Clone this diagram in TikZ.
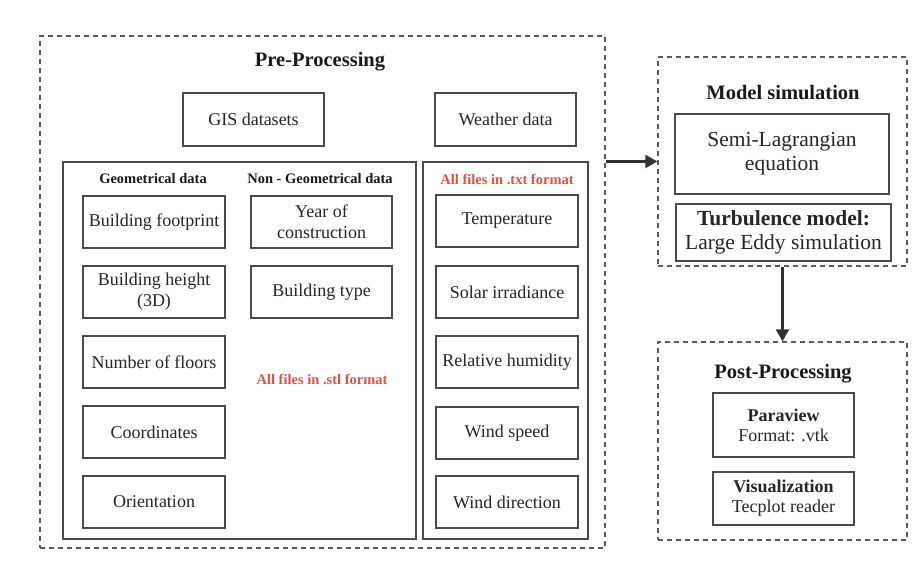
\documentclass[tikz,border=0pt]{standalone}
\usepackage{fontspec}
\setmainfont{Liberation Serif}
\usetikzlibrary{arrows.meta}
\definecolor{boxline}{HTML}{4A4A4A}
\definecolor{dashline}{HTML}{5A5A5A}
\definecolor{redtxt}{HTML}{DE523E}
\definecolor{arrowc}{HTML}{333333}
\tikzset{
  box/.style={draw=boxline, line width=1.3pt, rectangle, inner sep=0pt, align=center,
    font=\fontsize{18}{21}\selectfont, text=black!85},
  bigbox/.style={box, font=\fontsize{21.5}{24}\selectfont},
  group/.style={draw=dashline, line width=1.3pt, dash pattern=on 5pt off 4pt, rectangle, inner sep=0pt},
  panel/.style={draw=boxline, line width=1.3pt, rectangle, inner sep=0pt},
  title/.style={font=\fontsize{20.5}{24}\selectfont\bfseries, inner sep=0pt, text=black!90},
  head/.style={font=\fontsize{14.5}{17}\selectfont\bfseries, inner sep=0pt, text=black!90},
  redhead/.style={head, text=redtxt},
  arr/.style={draw=arrowc, line width=2.3pt, -{Triangle[length=12pt,width=13pt]}}
}
\begin{document}
\begin{tikzpicture}[x=1pt,y=-1pt]
\useasboundingbox[fill=white] (0,0) rectangle (920,580);
% groups
\node[group, minimum width=565pt, minimum height=512pt] (pre) at (322.5,292) {};
\node[group, minimum width=249pt, minimum height=209pt] (model) at (782.5,161.5) {};
\node[group, minimum width=249pt, minimum height=198pt] (post) at (782.5,441) {};
% panels
\node[panel, minimum width=353pt, minimum height=377pt] (geo) at (239.5,350.5) {};
\node[panel, minimum width=165pt, minimum height=377pt] (wpanel) at (505.5,350.5) {};
% titles
\node[title] (pretitle) at (320,62) {Pre-Processing};
\node[title] (modeltitle) at (783,93) {Model simulation};
\node[title] (posttitle) at (783,374) {Post-Processing};
% top boxes
\node[box, minimum width=141pt, minimum height=53pt] (gis) at (253.5,119.5) {GIS datasets};
\node[box, minimum width=141pt, minimum height=53pt] (weather) at (505.5,119.5) {Weather data};
% headers
\node[head] (geohead) at (153,179) {Geometrical data};
\node[head] (nongeohead) at (320,179) {Non - Geometrical data};
\node[redhead] (txthead) at (507,179) {All files in .txt format};
\node[redhead] (stlhead) at (322,379) {All files in .stl format};
% geometrical
\node[box, minimum width=142pt, minimum height=52pt] (g1) at (154,222) {Building footprint};
\node[box, minimum width=142pt, minimum height=52pt] (g2) at (154,292) {Building height\\(3D)};
\node[box, minimum width=142pt, minimum height=52pt] (g3) at (154,362) {Number of floors};
\node[box, minimum width=142pt, minimum height=52pt] (g4) at (154,432) {Coordinates};
\node[box, minimum width=142pt, minimum height=52pt] (g5) at (154,502) {Orientation};
% non-geometrical
\node[box, minimum width=141pt, minimum height=52pt] (n1) at (321.5,222) {Year of\\construction};
\node[box, minimum width=141pt, minimum height=52pt] (n2) at (321.5,292) {Building type};
% weather
\node[box, minimum width=142pt, minimum height=52pt] (w1) at (507,221) {Temperature};
\node[box, minimum width=142pt, minimum height=52pt] (w2) at (507,292) {Solar irradiance};
\node[box, minimum width=142pt, minimum height=52pt] (w3) at (507,362) {Relative humidity};
\node[box, minimum width=142pt, minimum height=52pt] (w4) at (507,433) {Wind speed};
\node[box, minimum width=142pt, minimum height=52pt] (w5) at (507,502) {Wind direction};
% model simulation
\node[bigbox, minimum width=214pt, minimum height=80pt] (semi) at (782,154) {Semi-Lagrangian\\equation};
\node[bigbox, minimum width=215pt, minimum height=57pt] (turb) at (783.5,232.5) {\textbf{Turbulence model:}\\Large Eddy simulation};
% post processing
\node[box, minimum width=141pt, minimum height=64pt, font=\fontsize{18}{20}\selectfont] (para) at (783.5,425) {\textbf{Paraview}\\Format: .vtk};
\node[box, minimum width=141pt, minimum height=53pt, font=\fontsize{18}{20}\selectfont] (vis) at (783.5,498.5) {\textbf{Visualization}\\Tecplot reader};
% arrows
\draw[arr] (pre.east |- model.west) -- (model.west);
\draw[arr] (model.south) -- (post.north);
\end{tikzpicture}
\end{document}
